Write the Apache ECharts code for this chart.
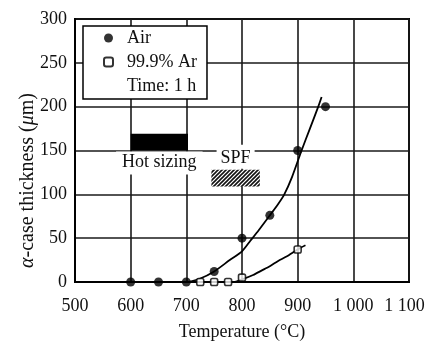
<!DOCTYPE html>
<html>
<head>
<meta charset="utf-8">
<script src="https://cdn.jsdelivr.net/npm/echarts@6/dist/echarts.min.js"></script>
<style>
html,body{margin:0;padding:0;background:#fff;}
#main{width:427px;height:343px;}
</style>
</head>
<body>
<div id="main"></div>
<script>
// ---- data ----
const xTicks = [500, 600, 700, 800, 900, 1000, 1100];
const xTickLabels = ['500', '600', '700', '800', '900', '1 000', '1 100'];
const yTicks = [0, 50, 100, 150, 200, 250, 300];

const airTemp = [600, 650, 700, 750, 800, 850, 900, 950];
const airVal = [0, 0, 0, 12, 50, 76, 150, 200];
const arTemp = [725, 750, 775, 800, 900];
const arVal = [0, 0, 0, 5, 37];

const airFitTemp = [600, 700, 725, 750, 778, 800, 815, 830, 850, 865, 876, 890, 907, 922, 937, 943];
const airFitVal  = [0,   0,   4,   12,  25,  35,  47,  59,  76,  89,  100, 120, 150, 175, 200, 211];
const arFitTemp = [700, 785, 800, 820, 835, 850, 865, 880, 895, 905, 914];
const arFitVal  = [0,   0,   3,   8,   13,  18,  24,  29,  35,  39,  42];

const hotSizingX = [600, 703];
const hotSizingY = [150, 169];
const spfX = [745, 832];
const spfY = [109, 128];

const seriesNames = ['Air', '99.9% Ar', 'Time: 1 h'];

// ---- helpers ----
const zip = (xs, ys) => xs.map((x, i) => [x, ys[i]]);
const FONT = "'Liberation Serif', 'Times New Roman', serif";

function hatchPattern() {
  const c = document.createElement('canvas');
  c.width = 4; c.height = 4;
  const g = c.getContext('2d');
  g.fillStyle = '#fff';
  g.fillRect(0, 0, 4, 4);
  g.strokeStyle = '#111';
  g.lineWidth = 1.6;
  g.beginPath();
  g.moveTo(0, 4); g.lineTo(4, 0);
  g.moveTo(-1, 1); g.lineTo(1, -1);
  g.moveTo(3, 5); g.lineTo(5, 3);
  g.stroke();
  return c;
}

const chart = echarts.init(document.getElementById('main'), null, {renderer: 'canvas'});

const option = {
  animation: false,
  textStyle: {fontFamily: FONT},
  grid: {
    left: 75, right: 18, top: 19, bottom: 61,
    containLabel: false, outerBoundsMode: 'none',
    show: true, borderColor: '#000', borderWidth: 2, backgroundColor: 'transparent'
  },
  legend: {
    left: 83, top: 26,
    orient: 'vertical',
    backgroundColor: '#fff',
    borderColor: '#000',
    borderWidth: 1.5,
    borderRadius: 0,
    padding: [3, 10, 4, 20],
    itemWidth: 9, itemHeight: 9,
    itemGap: 6,
    selectedMode: false,
    textStyle: {fontFamily: FONT, fontSize: 18, color: '#111', lineHeight: 18, padding: [0, 0, 0, 9]},
    data: [
      {name: seriesNames[0], icon: 'circle'},
      {name: seriesNames[1], icon: 'roundRect'},
      {name: seriesNames[2], icon: 'none'}
    ]
  },
  xAxis: {
    type: 'value', min: xTicks[0], max: xTicks[xTicks.length - 1], interval: 100,
    name: 'Temperature (°C)', nameLocation: 'middle', nameGap: 41,
    nameMoveOverlap: false,
    nameTextStyle: {fontFamily: FONT, fontSize: 18, color: '#111'},
    axisLine: {lineStyle: {color: '#000', width: 2}},
    axisTick: {show: false},
    axisLabel: {
      margin: 15, fontFamily: FONT, fontSize: 18, color: '#111',
      formatter: v => {
        const i = xTicks.indexOf(v);
        if (i < 0) return '';
        return i === xTicks.length - 1 ? '{last|' + xTickLabels[i] + '}' : xTickLabels[i];
      },
      rich: {last: {fontFamily: FONT, fontSize: 18, color: '#111', padding: [0, 9, 0, 0]}}
    },
    splitLine: {show: true, lineStyle: {color: '#1a1a1a', width: 1.6}}
  },
  yAxis: {
    type: 'value', min: yTicks[0], max: yTicks[yTicks.length - 1], interval: 50,
    name: '{i|α}-case thickness ({i|μ}m)', nameLocation: 'middle', nameGap: 37,
    nameMoveOverlap: false,
    nameTextStyle: {
      fontFamily: FONT, fontSize: 20, color: '#111', padding: [0, 60, 0, 0],
      rich: {i: {fontFamily: FONT, fontSize: 20, fontStyle: 'italic', color: '#111'}}
    },
    axisLine: {show: true, lineStyle: {color: '#000', width: 2}},
    axisTick: {show: false},
    axisLabel: {margin: 8, fontFamily: FONT, fontSize: 18, color: '#111'},
    splitLine: {show: true, lineStyle: {color: '#1a1a1a', width: 1.6}}
  },
  series: [
    {
      name: 'airFit', type: 'line', data: zip(airFitTemp, airFitVal),
      smooth: 0.25, showSymbol: false, symbol: 'none',
      lineStyle: {color: '#000', width: 1.8}, z: 3,
      markArea: {
        silent: true,
        data: [
          [
            {xAxis: hotSizingX[0], yAxis: hotSizingY[0], name: 'Hot sizing',
             itemStyle: {color: '#000'},
             label: {show: true, position: 'bottom', distance: 1, color: '#111',
               fontFamily: FONT, fontSize: 18, backgroundColor: '#fff', padding: [2, 6, 3, 6]}},
            {xAxis: hotSizingX[1], yAxis: hotSizingY[1]}
          ],
          [
            {xAxis: spfX[0], yAxis: spfY[0], name: 'SPF',
             itemStyle: {color: {image: hatchPattern(), repeat: 'repeat'}},
             label: {show: true, position: 'top', distance: 1, color: '#111',
               fontFamily: FONT, fontSize: 18, backgroundColor: '#fff', padding: [4, 4, 2, 4]}},
            {xAxis: spfX[1], yAxis: spfY[1]}
          ]
        ]
      }
    },
    {
      name: 'arFit', type: 'line', data: zip(arFitTemp, arFitVal),
      smooth: 0.25, showSymbol: false, symbol: 'none',
      lineStyle: {color: '#000', width: 1.8}, z: 3
    },
    {
      name: seriesNames[0], type: 'scatter', data: zip(airTemp, airVal),
      symbol: 'circle', symbolSize: 9,
      itemStyle: {color: '#000'}, z: 5
    },
    {
      name: seriesNames[1], type: 'scatter', data: zip(arTemp, arVal),
      symbol: 'roundRect', symbolSize: 7,
      itemStyle: {color: '#fff', borderColor: '#000', borderWidth: 1.6}, z: 5
    },
    {
      name: seriesNames[2], type: 'line', data: [],
      itemStyle: {color: 'transparent'}, lineStyle: {opacity: 0}
    }
  ]
};

chart.setOption(option);
</script>
</body>
</html>
